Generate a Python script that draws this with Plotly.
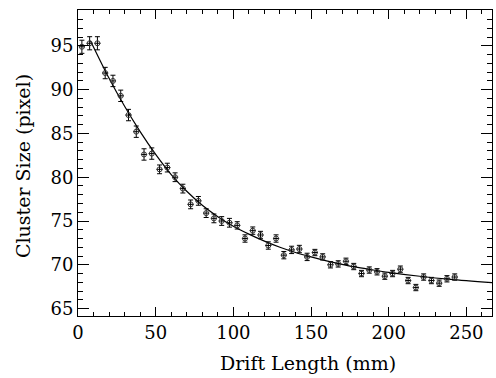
import plotly.graph_objects as go

# Data
drift_mm = [2.5, 7.5, 12.5, 17.5, 22.5, 27.5, 32.5, 37.5, 42.5, 47.5,
            52.5, 57.5, 62.5, 67.5, 72.5, 77.5, 82.5, 87.5, 92.5, 97.5,
            102.5, 107.5, 112.5, 117.5, 122.5, 127.5, 132.5, 137.5, 142.5, 147.5,
            152.5, 157.5, 162.5, 167.5, 172.5, 177.5, 182.5, 187.5, 192.5, 197.5,
            202.5, 207.5, 212.5, 217.5, 222.5, 227.5, 232.5, 237.5, 242.5]
cluster_size = [94.9, 95.3, 95.3, 91.9, 91.0, 89.3, 87.1, 85.2, 82.6, 82.7,
                80.9, 81.1, 80.0, 78.7, 76.9, 77.3, 75.9, 75.3, 75.0, 74.8,
                74.5, 73.0, 73.9, 73.4, 72.2, 73.0, 71.1, 71.7, 71.8, 70.9,
                71.4, 70.9, 70.0, 70.1, 70.4, 69.8, 69.0, 69.4, 69.2, 68.7,
                69.0, 69.5, 68.2, 67.4, 68.6, 68.2, 67.9, 68.4, 68.6]
cluster_err = [0.75, 0.75, 0.75,
               0.65, 0.65, 0.65, 0.65, 0.65, 0.65, 0.65,
               0.5, 0.5, 0.5, 0.5, 0.5, 0.5, 0.5, 0.5, 0.5, 0.5,
               0.42, 0.42, 0.42, 0.42, 0.42, 0.42, 0.42, 0.42, 0.42, 0.42,
               0.36, 0.36, 0.36, 0.36, 0.36, 0.36, 0.36, 0.36, 0.36, 0.36,
               0.36, 0.36, 0.36, 0.36, 0.36, 0.36, 0.36, 0.36, 0.36]
drift_err = 2.0

# Fit curve
fit_x = [8, 20, 30, 40, 50, 60, 70, 80, 90, 100, 110, 120, 130, 140, 150,
         160, 170, 180, 190, 200, 220, 240, 266.5]
fit_y = [95.6, 91.3, 88.1, 85.2, 82.6, 80.3, 78.4, 76.8, 75.5, 74.4, 73.5,
         72.7, 72.0, 71.4, 70.9, 70.45, 70.05, 69.7, 69.4, 69.13, 68.69,
         68.33, 67.96]

x_ticks = [0, 50, 100, 150, 200, 250]
y_ticks = [65, 70, 75, 80, 85, 90, 95]

assert len(drift_mm) == len(cluster_size) == len(cluster_err)

FONT = "DejaVu Serif"

fig = go.Figure()
fig.add_trace(go.Scatter(
    x=fit_x, y=fit_y, mode="lines",
    line=dict(color="black", width=1.2, shape="spline", smoothing=0.8),
    hoverinfo="skip", showlegend=False))
fig.add_trace(go.Scatter(
    x=drift_mm, y=cluster_size, mode="markers",
    marker=dict(symbol="circle-open", size=5, color="#333333",
                line=dict(width=1, color="#333333")),
    error_y=dict(type="data", array=cluster_err, color="black",
                 thickness=1, width=2.5),
    error_x=dict(type="constant", value=drift_err, color="black",
                 thickness=1, width=0),
    showlegend=False))

axis_common = dict(
    showgrid=False, zeroline=False, showline=True, linecolor="black",
    linewidth=1, mirror="allticks", ticks="inside", tickcolor="black",
    tickfont=dict(family=FONT, size=18, color="black"),
)

fig.update_xaxes(
    range=[0, 266.5], tickvals=x_ticks, ticktext=[str(v) for v in x_ticks],
    ticklen=9, tickwidth=1,
    minor=dict(ticks="inside", dtick=10, tick0=0, ticklen=4,
               tickcolor="black", tickwidth=1, showgrid=False),
    **axis_common)
fig.update_yaxes(
    range=[64.15, 99.1], tickvals=y_ticks, ticktext=[str(v) for v in y_ticks],
    ticklen=11, tickwidth=1,
    minor=dict(ticks="inside", dtick=1, tick0=65, ticklen=5,
               tickcolor="black", tickwidth=1, showgrid=False),
    **axis_common)

fig.add_annotation(
    text="Drift Length (mm)", xref="paper", yref="paper",
    x=(307.5 - 78) / (492 - 78), y=0, yshift=-47, xanchor="center",
    yanchor="middle", showarrow=False,
    font=dict(family=FONT, size=19, color="black"))
fig.add_annotation(
    text="Cluster Size (pixel)", xref="paper", yref="paper",
    x=0, y=(316 - 166) / (316 - 10), xshift=-55, xanchor="center",
    yanchor="middle", textangle=-90, showarrow=False,
    font=dict(family=FONT, size=19, color="black"))

fig.update_layout(
    width=496, height=378,
    margin=dict(l=78, r=4, t=10, b=62),
    paper_bgcolor="white", plot_bgcolor="white",
    font=dict(family=FONT),
)

fig.write_html("out.html",
               config={"displayModeBar": False},
               post_script="document.body.style.margin='0';"
                           "document.body.style.padding='0';")
